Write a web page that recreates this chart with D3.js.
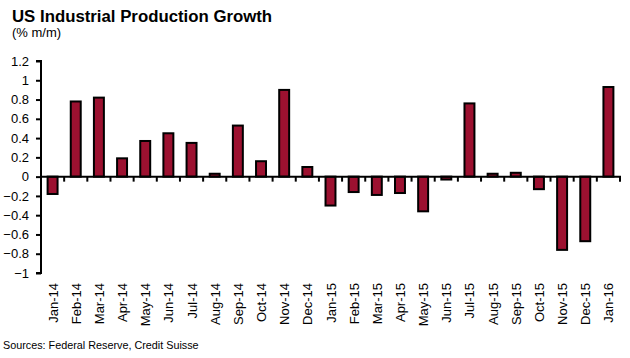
<!DOCTYPE html>
<html><head><meta charset="utf-8">
<script src="https://cdn.jsdelivr.net/npm/d3@7"></script>
<style>body{margin:0;background:#fff;}svg{display:block;font-family:"Liberation Sans",Arial,sans-serif;}</style>
</head><body>
<svg id="c" width="630" height="358"></svg>
<script>
const categories = ["Jan-14","Feb-14","Mar-14","Apr-14","May-14","Jun-14","Jul-14","Aug-14","Sep-14","Oct-14","Nov-14","Dec-14","Jan-15","Feb-15","Mar-15","Apr-15","May-15","Jun-15","Jul-15","Aug-15","Sep-15","Oct-15","Nov-15","Dec-15","Jan-16"];
const values = [-0.18,0.78,0.82,0.19,0.37,0.45,0.35,0.03,0.53,0.16,0.90,0.10,-0.30,-0.16,-0.19,-0.17,-0.36,-0.03,0.76,0.03,0.04,-0.13,-0.76,-0.67,0.93];
const yTicks = [1.2,1,0.8,0.6,0.4,0.2,0,-0.2,-0.4,-0.6,-0.8,-1];
const title = "US Industrial Production Growth";
const subtitle = "(% m/m)";
const source = "Sources: Federal Reserve, Credit Suisse";

const svg = d3.select("#c");
const x = d3.scaleBand().domain(categories).range([41, 620]).paddingInner(0).paddingOuter(0);
const y = d3.scaleLinear().domain([-1, 1.2]).range([273, 61]);

svg.append("text").attr("x", 12).attr("y", 22).attr("font-size", 16.8).attr("font-weight", "bold").text(title);
svg.append("text").attr("x", 12).attr("y", 37).attr("font-size", 13).text(subtitle);

// bars
const bw = x.bandwidth() * 0.43;
svg.append("g").selectAll("rect").data(values).join("rect")
  .attr("x", (d, i) => x(categories[i]) + (x.bandwidth() - bw) / 2)
  .attr("y", d => Math.min(y(d), y(0)))
  .attr("width", bw)
  .attr("height", d => Math.max(0.5, Math.abs(y(d) - y(0))))
  .attr("fill", "#9C1130")
  .attr("stroke", "#000")
  .attr("stroke-width", 2);

// y axis
const ya = svg.append("g").attr("transform", "translate(41,0)")
  .call(d3.axisLeft(y).tickValues(yTicks).tickSize(5).tickPadding(7).tickFormat(d => d3.format("")(d)));
ya.select(".domain").attr("stroke", "#000").attr("stroke-width", 2).attr("d", `M-5,${y(1.2)}H0V${y(-1)}H-5`);
ya.selectAll(".tick line").attr("stroke", "#000").attr("stroke-width", 2);
ya.selectAll(".tick text").attr("font-size", 13).attr("fill", "#000").attr("font-family", "Liberation Sans, Arial, sans-serif");

// x axis (zero line)
const xa = svg.append("g").attr("transform", `translate(0,${y(0)})`)
  .call(d3.axisBottom(x).tickSize(0).tickFormat(""));
xa.select(".domain").attr("stroke", "#000").attr("stroke-width", 2).attr("d", `M41,0H621`);
xa.selectAll(".tick").remove();
xa.append("g").selectAll("line").data(categories).join("line")
  .attr("x1", d => x(d) + x.bandwidth()).attr("x2", d => x(d) + x.bandwidth())
  .attr("y1", 0).attr("y2", 5).attr("stroke", "#000").attr("stroke-width", 2);

// x labels
svg.append("g").selectAll("text").data(categories).join("text")
  .attr("transform", d => `translate(${x(d) + x.bandwidth() / 2 + 5},283) rotate(-90)`)
  .attr("text-anchor", "end").attr("font-size", 13).text(d => d);

svg.append("text").attr("x", 3).attr("y", 349).attr("font-size", 10.8).text(source);
</script>
</body></html>
